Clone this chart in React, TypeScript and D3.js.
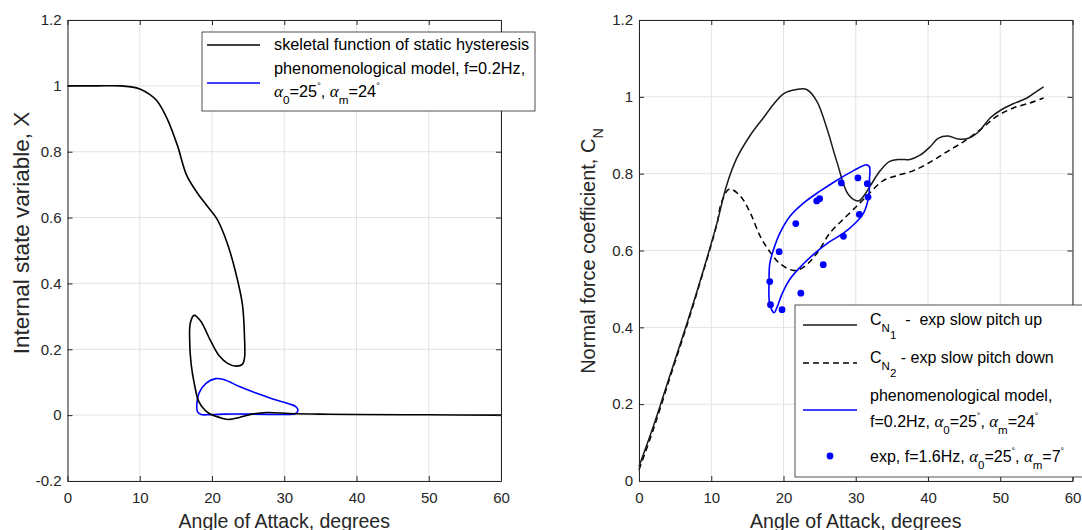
import * as d3 from 'd3';
import { useEffect, useRef } from 'react';

// left panel: skeletal function (parametric path) and model loop
const skeletal: [number, number][] = [
  [0, 1], [4, 1], [7.3, 1.0], [8.8, 0.997], [10.1, 0.99], [11.3, 0.975], [12.4, 0.954],
  [13.8, 0.9], [15.2, 0.82], [16.5, 0.728], [17.9, 0.677], [19.3, 0.636], [20.7, 0.595],
  [22.1, 0.523], [23.2, 0.44], [24.2, 0.338], [24.5, 0.236], [24.5, 0.174], [24.2, 0.154],
  [23.3, 0.149], [22.1, 0.158], [21.0, 0.18], [19.8, 0.226], [18.4, 0.287], [17.5, 0.303],
  [17.0, 0.28], [16.9, 0.236], [17.1, 0.157], [17.6, 0.09], [18.2, 0.04], [19.4, 0.008],
  [21.5, -0.01], [22.4, -0.013], [23.8, -0.007], [25.5, 0.003], [27.6, 0.008], [30.7, 0.005],
  [35, 0.003], [40, 0.002], [50, 0.001], [60, 0],
];
const modelLoopX: [number, number][] = [
  [20.5, 0.111], [21.6, 0.108], [23.8, 0.087], [26.1, 0.067], [28.4, 0.049], [30.7, 0.034],
  [31.6, 0.026], [31.9, 0.014], [31.5, 0.004], [30.2, 0.002], [26.1, 0.003], [21.5, 0.003],
  [19.2, 0.001], [18.5, 0.002], [18.0, 0.01], [17.9, 0.033], [18.2, 0.067], [19.2, 0.097],
];

// right panel: experimental curves, model loop, measured points
const cn1: [number, number][] = [
  [0, 0.038], [2.0, 0.143], [4.3, 0.276], [6.6, 0.408], [8.9, 0.548], [10.8, 0.672],
  [12.1, 0.768], [13.5, 0.839], [15.4, 0.9], [17.2, 0.945], [18.6, 0.98], [20.0, 1.008],
  [21.8, 1.019], [23.2, 1.019], [24.6, 0.989], [26.0, 0.918], [27.4, 0.83], [29.0, 0.745],
  [30.4, 0.729], [31.1, 0.742], [32.0, 0.768], [33.4, 0.808], [34.7, 0.832], [36.1, 0.837],
  [37.5, 0.837], [38.9, 0.848], [40.3, 0.87], [41.4, 0.892], [42.8, 0.898], [44.2, 0.89],
  [45.6, 0.892], [47.0, 0.909], [48.6, 0.945], [50.2, 0.967], [51.8, 0.982], [53.7, 0.997],
  [55.1, 1.015], [56.0, 1.026],
];
const cn2: [number, number][] = [
  [0, 0.029], [2.0, 0.135], [4.3, 0.27], [6.6, 0.403], [8.9, 0.545], [10.8, 0.67],
  [11.4, 0.724], [12.5, 0.76], [14.0, 0.742], [15.4, 0.698], [16.8, 0.636], [18.1, 0.597],
  [19.5, 0.566], [21.4, 0.548], [22.8, 0.557], [24.6, 0.592], [26.4, 0.645], [28.7, 0.689],
  [30.6, 0.724], [32.0, 0.751], [33.8, 0.782], [35.7, 0.795], [38.0, 0.808], [40.3, 0.83],
  [42.6, 0.857], [44.9, 0.883], [47.2, 0.914], [49.5, 0.949], [51.8, 0.971], [54.1, 0.984],
  [56.0, 0.997],
];
const modelLoopCN: [number, number][] = [
  [18.7, 0.438], [18.1, 0.46], [18.0, 0.522], [18.1, 0.566], [18.6, 0.601], [19.5, 0.645],
  [20.9, 0.689], [22.8, 0.724], [25.1, 0.755], [27.4, 0.783], [29.7, 0.808], [31.5, 0.823],
  [31.9, 0.818], [31.9, 0.786], [31.8, 0.742], [31.1, 0.698], [29.7, 0.667], [28.3, 0.645],
  [26.4, 0.623], [24.6, 0.597], [22.8, 0.566], [20.9, 0.526], [19.8, 0.487], [19.1, 0.452],
];
const expPoints: [number, number][] = [
  [18.1, 0.519], [18.2, 0.459], [19.4, 0.597], [19.8, 0.446], [21.7, 0.67], [22.4, 0.489],
  [24.6, 0.729], [25.0, 0.735], [25.5, 0.563], [28.0, 0.776], [28.3, 0.637], [30.3, 0.789],
  [30.5, 0.694], [31.6, 0.774], [31.7, 0.739],
];

const xTicks = [0, 10, 20, 30, 40, 50, 60];
const leftYTicks = [-0.2, 0, 0.2, 0.4, 0.6, 0.8, 1, 1.2];
const rightYTicks = [0, 0.2, 0.4, 0.6, 0.8, 1, 1.2];

const FONT = '"Liberation Sans", Arial, sans-serif';
const AX = '#262626';

type Part = { t: string; k?: 'sub' | 'sup' | 'subsub'; a?: boolean };

function rich(sel: any, parts: Part[], fs: number) {
  let shift = 0;
  parts.forEach((p) => {
    const target =
      p.k === 'sub' ? fs * 0.42 : p.k === 'sup' ? -fs * 0.5 : p.k === 'subsub' ? fs * 0.9 : 0;
    const size = p.k === 'sup' ? fs * 0.55 : p.k ? fs * 0.72 : p.a ? fs * 1.05 : fs;
    const ts = sel
      .append('tspan')
      .attr('dy', target - shift)
      .attr('font-size', size)
      .text(p.t);
    if (p.a) ts.attr('font-family', '"Liberation Serif", serif').attr('font-style', 'italic');
    shift = target;
  });
}

const fmt = (d: any) => String(Math.round(+d * 10) / 10);

function grid(svg: any, x: any, y: any, yTicks: number[]) {
  const [x0, x1] = x.range();
  const [y0, y1] = y.range();
  const g = svg.append('g');
  g.selectAll('.gx').data(xTicks).join('line')
    .attr('x1', (d: number) => x(d)).attr('x2', (d: number) => x(d))
    .attr('y1', y0).attr('y2', y1).attr('stroke', '#e3e3e3').attr('stroke-width', 1);
  g.selectAll('.gy').data(yTicks).join('line')
    .attr('y1', (d: number) => y(d)).attr('y2', (d: number) => y(d))
    .attr('x1', x0).attr('x2', x1).attr('stroke', '#e3e3e3').attr('stroke-width', 1);
}

function axes(svg: any, x: any, y: any, yTicks: number[]) {
  const [x0, x1] = x.range();
  const [y0, y1] = y.range();
  const style = (a: any) => {
    a.select('.domain').attr('stroke', AX);
    a.selectAll('.tick line').attr('stroke', AX);
    a.selectAll('text').attr('fill', AX).attr('font-family', FONT).attr('font-size', 15);
  };
  svg.append('g').attr('transform', `translate(0,${y0})`)
    .call(d3.axisBottom(x).tickValues(xTicks).tickSizeInner(-5).tickSizeOuter(0).tickPadding(11).tickFormat(fmt))
    .call(style);
  svg.append('g').attr('transform', `translate(0,${y1})`)
    .call(d3.axisTop(x).tickValues(xTicks).tickSizeInner(-5).tickSizeOuter(0).tickFormat(() => ''))
    .call(style);
  svg.append('g').attr('transform', `translate(${x0},0)`)
    .call(d3.axisLeft(y).tickValues(yTicks).tickSizeInner(-5).tickSizeOuter(0).tickPadding(6).tickFormat(fmt))
    .call(style);
  svg.append('g').attr('transform', `translate(${x1},0)`)
    .call(d3.axisRight(y).tickValues(yTicks).tickSizeInner(-5).tickSizeOuter(0).tickFormat(() => ''))
    .call(style);
  svg.append('text')
    .attr('x', (x0 + x1) / 2).attr('y', 528)
    .attr('text-anchor', 'middle').attr('font-family', FONT).attr('font-size', 19.5).attr('fill', AX)
    .text('Angle of Attack, degrees');
}

const App = () => {
  const ref = useRef<SVGSVGElement>(null);

  useEffect(() => {
    const svg = d3.select(ref.current);
    svg.selectAll('*').remove();

    const lx = d3.scaleLinear().domain([0, 60]).range([67.5, 501]);
    const ly = d3.scaleLinear().domain([-0.2, 1.2]).range([481, 20]);
    const rx = d3.scaleLinear().domain([0, 60]).range([639, 1072.5]);
    const ry = d3.scaleLinear().domain([0, 1.2]).range([481, 20]);

    // ---- left panel
    grid(svg, lx, ly, leftYTicks);
    const lline = d3.line<[number, number]>().x((d) => lx(d[0])).y((d) => ly(d[1])).curve(d3.curveCatmullRom);
    const lloop = d3.line<[number, number]>().x((d) => lx(d[0])).y((d) => ly(d[1])).curve(d3.curveCatmullRomClosed);
    svg.append('path').attr('d', lloop(modelLoopX)).attr('fill', 'none').attr('stroke', '#0000ff').attr('stroke-width', 1.6);
    svg.append('path').attr('d', lline(skeletal)).attr('fill', 'none').attr('stroke', '#000').attr('stroke-width', 1.6);
    axes(svg, lx, ly, leftYTicks);
    svg.append('text')
      .attr('transform', `translate(29,233) rotate(-90)`)
      .attr('text-anchor', 'middle').attr('font-family', FONT).attr('font-size', 22.5).attr('fill', AX)
      .text('Internal state variable, X');

    // left legend
    const lg = svg.append('g');
    lg.append('rect').attr('x', 202).attr('y', 32).attr('width', 333).attr('height', 79)
      .attr('fill', '#fff').attr('stroke', AX).attr('stroke-width', 0.8);
    lg.append('line').attr('x1', 207).attr('x2', 260).attr('y1', 45).attr('y2', 45).attr('stroke', '#000').attr('stroke-width', 1.6);
    lg.append('line').attr('x1', 207).attr('x2', 260).attr('y1', 83).attr('y2', 83).attr('stroke', '#0000ff').attr('stroke-width', 1.6);
    const lt = (y: number) => lg.append('text').attr('x', 274).attr('y', y).attr('font-family', FONT).attr('font-size', 16.3).attr('fill', '#000');
    lt(50).text('skeletal function of static hysteresis');
    lt(74).text('phenomenological model, f=0.2Hz,');
    rich(lt(97), [
      { t: 'α', a: true }, { t: '0', k: 'sub' }, { t: '=25' }, { t: '°', k: 'sup' }, { t: ', ' },
      { t: 'α', a: true }, { t: 'm', k: 'sub' }, { t: '=24' }, { t: '°', k: 'sup' },
    ], 16.3);

    // ---- right panel
    grid(svg, rx, ry, rightYTicks);
    const rline = d3.line<[number, number]>().x((d) => rx(d[0])).y((d) => ry(d[1])).curve(d3.curveCatmullRom);
    const rloop = d3.line<[number, number]>().x((d) => rx(d[0])).y((d) => ry(d[1])).curve(d3.curveCatmullRomClosed);
    svg.append('path').attr('d', rline(cn2)).attr('fill', 'none').attr('stroke', '#000').attr('stroke-width', 1.5).attr('stroke-dasharray', '6,4');
    svg.append('path').attr('d', rline(cn1)).attr('fill', 'none').attr('stroke', '#1a1a1a').attr('stroke-width', 1.5);
    svg.append('path').attr('d', rloop(modelLoopCN)).attr('fill', 'none').attr('stroke', '#0000ff').attr('stroke-width', 1.6);
    svg.selectAll('.pt').data(expPoints).join('circle')
      .attr('cx', (d: [number, number]) => rx(d[0])).attr('cy', (d: [number, number]) => ry(d[1]))
      .attr('r', 3.4).attr('fill', '#0000ff');
    axes(svg, rx, ry, rightYTicks);
    const yl = svg.append('text')
      .attr('transform', `translate(595,251) rotate(-90)`)
      .attr('text-anchor', 'middle').attr('font-family', FONT).attr('fill', AX);
    rich(yl, [{ t: 'Normal force coefficient, C' }, { t: 'N', k: 'sub' }], 20);

    // right legend
    const rg = svg.append('g');
    rg.append('rect').attr('x', 795).attr('y', 305).attr('width', 300).attr('height', 172)
      .attr('fill', '#fff').attr('stroke', AX).attr('stroke-width', 0.8);
    rg.append('line').attr('x1', 803).attr('x2', 857).attr('y1', 325).attr('y2', 325).attr('stroke', '#1a1a1a').attr('stroke-width', 1.5);
    rg.append('line').attr('x1', 803).attr('x2', 857).attr('y1', 363).attr('y2', 363).attr('stroke', '#000').attr('stroke-width', 1.5).attr('stroke-dasharray', '6,4');
    rg.append('line').attr('x1', 803).attr('x2', 857).attr('y1', 410).attr('y2', 410).attr('stroke', '#0000ff').attr('stroke-width', 1.6);
    rg.append('circle').attr('cx', 830).attr('cy', 456).attr('r', 3.4).attr('fill', '#0000ff');
    const rt = (y: number) => rg.append('text').attr('x', 870).attr('y', y).attr('font-family', FONT).attr('font-size', 16).attr('fill', '#000').style('white-space', 'pre');
    rich(rt(325), [{ t: 'C' }, { t: 'N', k: 'sub' }, { t: '1', k: 'subsub' }, { t: '  -  exp slow pitch up' }], 16);
    rich(rt(363), [{ t: 'C' }, { t: 'N', k: 'sub' }, { t: '2', k: 'subsub' }, { t: ' - exp slow pitch down' }], 16);
    rt(401).text('phenomenological model,');
    rich(rt(427), [
      { t: 'f=0.2Hz, ' }, { t: 'α', a: true }, { t: '0', k: 'sub' }, { t: '=25' }, { t: '°', k: 'sup' }, { t: ', ' },
      { t: 'α', a: true }, { t: 'm', k: 'sub' }, { t: '=24' }, { t: '°', k: 'sup' },
    ], 16);
    rich(rt(462), [
      { t: 'exp, f=1.6Hz, ' }, { t: 'α', a: true }, { t: '0', k: 'sub' }, { t: '=25' }, { t: '°', k: 'sup' }, { t: ', ' },
      { t: 'α', a: true }, { t: 'm', k: 'sub' }, { t: '=7' }, { t: '°', k: 'sup' },
    ], 16);
  }, []);

  return (
    <svg
      ref={ref}
      width={1082}
      height={530}
      style={{ position: 'absolute', left: 0, top: 0, background: '#fff' }}
    />
  );
};

export default App;
